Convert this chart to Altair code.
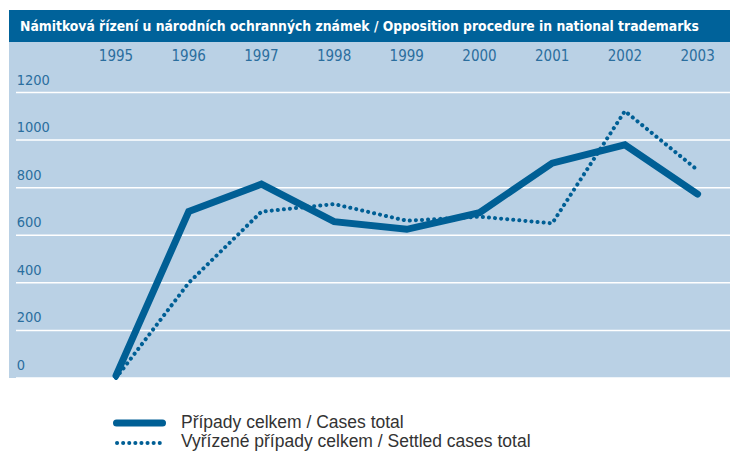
import altair as alt
import pandas as pd

# ---- data ----
years = [1995, 1996, 1997, 1998, 1999, 2000, 2001, 2002, 2003]
cases_total = [10, 700, 815, 657, 625, 695, 903, 980, 773]
settled_total = [0, 400, 699, 731, 661, 678, 650, 1122, 874]
y_ticks = [0, 200, 400, 600, 800, 1000, 1200]
title_text = "Námitková řízení u národních ochranných známek / Opposition procedure in national trademarks"
legend_labels = ["Případy celkem / Cases total", "Vyřízené případy celkem / Settled cases total"]

DARK = "#00629a"
LINE = "#005f95"
PANEL = "#bad1e5"
LABEL = "#2b6e9e"
COND = "DejaVu Sans Condensed"
SANS = "Liberation Sans"

W, H = 721, 336

df = pd.DataFrame({"year": years, "cases": cases_total, "settled": settled_total})
ticks_df = pd.DataFrame({"v": y_ticks})

xs = alt.Scale(domain=[1993.528, 2003.446], nice=False, zero=False)
ys = alt.Scale(domain=[0, 1412.3], nice=False, zero=False)

base = alt.Chart(df)

grid = alt.Chart(ticks_df).mark_rule(color="white", strokeWidth=1.5).encode(
    y=alt.Y("v:Q", scale=ys, axis=None), x=alt.value(7), x2=alt.value(W)
)
ylabels = alt.Chart(ticks_df).mark_text(
    align="left", baseline="middle", dy=-12, font=COND, fontSize=14.5, color=LABEL
).encode(y=alt.Y("v:Q", scale=ys, axis=None), x=alt.value(7.7), text=alt.Text("v:Q", format="d"))

xlabels = base.mark_text(
    align="center", baseline="middle", font=COND, fontSize=15, color=LABEL
).encode(x=alt.X("year:Q", scale=xs, axis=None), y=alt.value(13.5), text=alt.Text("year:Q", format="d"))

title_df = pd.DataFrame({"t": [title_text]})
title_bar = alt.Chart(title_df).mark_rect(color=DARK).encode(
    x=alt.value(0), x2=alt.value(W), y=alt.value(-32), y2=alt.value(0)
)
title = alt.Chart(title_df).mark_text(
    align="left", baseline="middle", font=COND, fontSize=13.8, fontWeight="bold", color="white"
).encode(x=alt.value(11), y=alt.value(-15), text="t:N")

line_cases = base.mark_line(color=LINE, strokeWidth=7, strokeCap="round", strokeJoin="miter").encode(
    x=alt.X("year:Q", scale=xs, axis=None), y=alt.Y("cases:Q", scale=ys, axis=None)
)
line_settled = base.mark_line(color=LINE, strokeWidth=4, strokeDash=[0.1, 6], strokeCap="round").encode(
    x=alt.X("year:Q", scale=xs, axis=None), y=alt.Y("settled:Q", scale=ys, axis=None)
)

leg1_df = pd.DataFrame({"label": [legend_labels[0]]})
leg2_df = pd.DataFrame({"label": [legend_labels[1]]})
leg1_sym = alt.Chart(leg1_df).mark_rule(color=LINE, strokeWidth=7, strokeCap="round").encode(
    x=alt.value(107.5), x2=alt.value(153.5), y=alt.value(381)
)
leg2_sym = alt.Chart(leg2_df).mark_rule(color=LINE, strokeWidth=4, strokeDash=[0.1, 6], strokeCap="round").encode(
    x=alt.value(108), x2=alt.value(153), y=alt.value(401)
)
leg1_txt = alt.Chart(leg1_df).mark_text(
    align="left", baseline="middle", font=SANS, fontSize=17.5, color="#333333"
).encode(x=alt.value(172), y=alt.value(380.5), text="label:N")
leg2_txt = alt.Chart(leg2_df).mark_text(
    align="left", baseline="middle", font=SANS, fontSize=17.5, color="#333333"
).encode(x=alt.value(172), y=alt.value(400), text="label:N")

chart = alt.layer(
    grid, ylabels, xlabels, title_bar, title, line_settled, line_cases,
    leg1_sym, leg2_sym, leg1_txt, leg2_txt
).properties(
    width=W, height=H, autosize="none",
    padding={"left": 1, "top": 34, "right": 0, "bottom": 73},
    background="white",
).configure_view(fill=PANEL, strokeWidth=0)

chart.save("out.html", embed_options={"renderer": "svg", "actions": False})
